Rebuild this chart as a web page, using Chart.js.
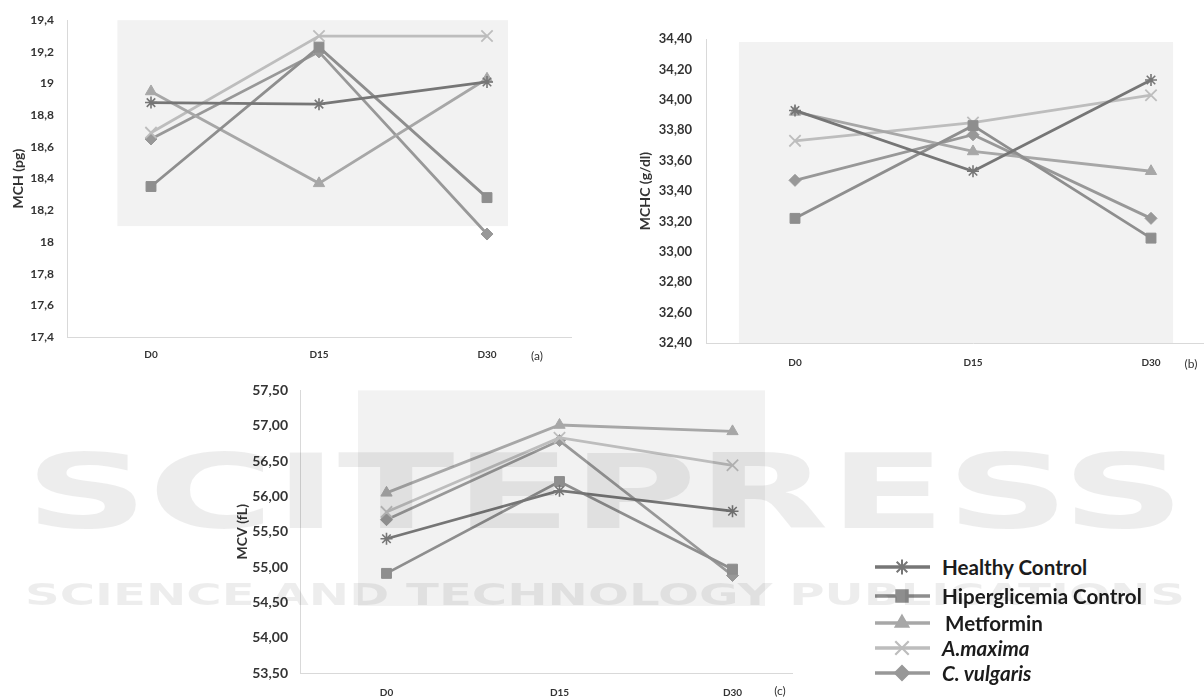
<!DOCTYPE html>
<html>
<head>
<meta charset="utf-8">
<script src="https://cdn.jsdelivr.net/npm/chart.js@4.4.1/dist/chart.umd.min.js"></script>
<style>
  html, body { margin: 0; padding: 0; background: #fff; }
  body { width: 1204px; height: 700px; overflow: hidden; position: relative; font-family: Lato, "Open Sans", sans-serif; }
  .box { position: absolute; overflow: hidden; }
  .box canvas { position: absolute; left: 0; top: 0; }
  .tag { position: absolute; font: 12px Lato, sans-serif; color: #333; transform: translate(-50%, -50%); white-space: nowrap; }
  #legend { position: absolute; left: 0; top: 0; }
  .row { position: absolute; height: 26px; display: flex; align-items: center; white-space: nowrap; }
  .row canvas { display: block; }
  .row span { font: bold 20.6px Lato, sans-serif; color: #1c1c1c; margin-left: 10px; }
  .row span.it { font-style: italic; }
  #mark { position: absolute; left: 0; top: 0; pointer-events: none; z-index: 5; }
</style>
</head>
<body>
<div class="box" style="left:0;top:0;width:600px;height:370px"><canvas id="chartMCH" width="600" height="370"></canvas></div>
<div class="box" style="left:600px;top:0;width:604px;height:380px"><canvas id="chartMCHC" width="660" height="380"></canvas></div>
<div class="box" style="left:200px;top:370px;width:593px;height:330px"><canvas id="chartMCV" width="640" height="330"></canvas></div>
<div class="tag" style="left:537px;top:355px">(a)</div>
<div class="tag" style="left:1191px;top:363px">(b)</div>
<div class="tag" style="left:780px;top:690px">(c)</div>
<div id="legend"></div>
<canvas id="mark" width="1204" height="700"></canvas>

<script>
// Sampling days and treatment groups
const days = ['D0', 'D15', 'D30'];
const groups = ['Healthy Control', 'Hiperglicemia Control', 'Metformin', 'A.maxima', 'C. vulgaris'];

// MCH (pg)
const mchHealthy   = [18.88, 18.87, 19.01];
const mchHiper     = [18.35, 19.23, 18.28];
const mchMetformin = [18.95, 18.37, 19.03];
const mchAmaxima   = [18.69, 19.30, 19.30];
const mchCvulgaris = [18.65, 19.20, 18.05];

// MCHC (g/dl)
const mchcHealthy   = [33.93, 33.53, 34.13];
const mchcHiper     = [33.22, 33.83, 33.09];
const mchcMetformin = [33.92, 33.66, 33.53];
const mchcAmaxima   = [33.73, 33.85, 34.03];
const mchcCvulgaris = [33.47, 33.77, 33.22];

// MCV (fL)
const mcvHealthy   = [55.40, 56.08, 55.79];
const mcvHiper     = [54.91, 56.21, 54.97];
const mcvMetformin = [56.05, 57.01, 56.92];
const mcvAmaxima   = [55.78, 56.83, 56.44];
const mcvCvulgaris = [55.67, 56.79, 54.88];

// Axis tick values
const mchTicks  = [17.4, 17.6, 17.8, 18.0, 18.2, 18.4, 18.6, 18.8, 19.0, 19.2, 19.4];
const mchcTicks = [32.4, 32.6, 32.8, 33.0, 33.2, 33.4, 33.6, 33.8, 34.0, 34.2, 34.4];
const mcvTicks  = [53.5, 54.0, 54.5, 55.0, 55.5, 56.0, 56.5, 57.0, 57.5];

// Series styling (grayscale palette)
const seriesColors  = ['#767676', '#8e8e8e', '#a7a7a7', '#bdbdbd', '#989898'];
const seriesMarkers = ['star', 'rect', 'triangle', 'crossRot', 'rectRot'];
const markerRadius  = [6, 7, 6.5, 8, 6];
const markerBorder  = [1.6, 1, 1, 1.8, 1];

Chart.defaults.font.family = 'Lato, "Open Sans", sans-serif';

// Light panel painted behind the lines, bounds given in axis units
const plotShade = {
  id: 'plotShade',
  beforeDatasetsDraw(chart, args, opts) {
    if (!opts || opts.x0 === undefined) return;
    const { ctx, scales: { x, y } } = chart;
    const l = x.getPixelForValue(opts.x0), r = x.getPixelForValue(opts.x1);
    const t = y.getPixelForValue(opts.y1), b = y.getPixelForValue(opts.y0);
    ctx.save();
    ctx.fillStyle = opts.color || '#f2f2f2';
    ctx.fillRect(l, t, r - l, b - t);
    ctx.restore();
  }
};

function makeChart(id, cfg) {
  return new Chart(document.getElementById(id), {
    type: 'line',
    data: {
      labels: days,
      datasets: groups.map((name, i) => ({
        label: name,
        data: cfg.values[i],
        borderColor: seriesColors[i],
        backgroundColor: seriesColors[i],
        pointBackgroundColor: seriesColors[i],
        pointBorderColor: seriesColors[i],
        pointStyle: seriesMarkers[i],
        pointRadius: markerRadius[i],
        pointBorderWidth: markerBorder[i],
        borderWidth: cfg.lineWidth,
        tension: 0,
        fill: false,
        clip: false
      }))
    },
    options: {
      responsive: false,
      animation: false,
      events: [],
      layout: { padding: cfg.padding },
      plugins: {
        legend: { display: false },
        tooltip: { enabled: false },
        plotShade: cfg.shade
      },
      scales: {
        x: {
          type: 'category',
          offset: true,
          grid: { display: false, drawTicks: false },
          border: { display: true, color: '#d9d9d9', width: 1 },
          ticks: { padding: cfg.xPad, color: '#333', maxRotation: 0, autoSkip: false,
                   font: { weight: 'bold', size: 10 } },
          afterFit: s => { s.height = cfg.xHeight; }
        },
        y: {
          min: cfg.ticks[0],
          max: cfg.ticks[cfg.ticks.length - 1],
          grid: { display: false, drawTicks: false },
          border: { display: true, color: '#d9d9d9', width: 1 },
          ticks: { padding: cfg.yPad, color: '#333', font: { weight: 'bold', size: cfg.tickSize },
                   callback: cfg.format },
          afterBuildTicks: s => { s.ticks = cfg.ticks.map(v => ({ value: v })); },
          afterFit: s => { s.width = cfg.yWidth; },
          title: { display: true, text: cfg.title, color: '#333',
                   font: { weight: 'bold', size: 14 }, padding: { top: cfg.titlePad, bottom: 0 } }
        }
      }
    },
    plugins: [plotShade]
  });
}

const oneDecimal = v => String(Math.round(v * 10) / 10).replace('.', ',');
const twoDecimals = v => v.toFixed(2).replace('.', ',');

makeChart('chartMCH', {
  values: [mchHealthy, mchHiper, mchMetformin, mchAmaxima, mchCvulgaris],
  ticks: mchTicks, format: oneDecimal, title: 'MCH (pg)',
  padding: { left: 0, right: 29, top: 15, bottom: 0 },
  yWidth: 67, xHeight: 33, xPad: 12, yPad: 13, tickSize: 12, titlePad: 10,
  lineWidth: 2.8,
  shade: { x0: -0.2, x1: 2.125, y0: 18.1, y1: 19.4, color: '#f2f2f2' }
});

makeChart('chartMCHC', {
  values: [mchcHealthy, mchcHiper, mchcMetformin, mchcAmaxima, mchcCvulgaris],
  ticks: mchcTicks, format: twoDecimals, title: 'MCHC (g/dl)',
  padding: { left: 0, right: 20, top: 39, bottom: 0 },
  yWidth: 106, xHeight: 37, xPad: 14, yPad: 14, tickSize: 13, titlePad: 37,
  lineWidth: 2.8,
  shade: { x0: -0.315, x1: 2.124, y0: 32.4, y1: 34.38, color: '#f2f2f2' }
});

makeChart('chartMCV', {
  values: [mcvHealthy, mcvHiper, mcvMetformin, mcvAmaxima, mcvCvulgaris],
  ticks: mcvTicks, format: twoDecimals, title: 'MCV (fL)',
  padding: { left: 0, right: 21, top: 17, bottom: 0 },
  yWidth: 100, xHeight: 27, xPad: 14, yPad: 12, tickSize: 14, titlePad: 34,
  lineWidth: 2.8,
  shade: { x0: -0.165, x1: 2.188, y0: 54.45, y1: 57.5, color: '#f2f2f2' }
});

// Shared legend
const legendRows = [567, 596, 623, 648, 673];
const legendEl = document.getElementById('legend');
groups.forEach((name, i) => {
  const row = document.createElement('div');
  row.className = 'row';
  row.style.left = '872px';
  row.style.top = (legendRows[i] - 13) + 'px';
  const c = document.createElement('canvas');
  c.width = 60; c.height = 26;
  row.appendChild(c);
  const t = document.createElement('span');
  t.textContent = name;
  if (i >= 3) t.className = 'it';
  if (i === 2) t.style.marginLeft = '13px';
  row.appendChild(t);
  legendEl.appendChild(row);

  const ctx = c.getContext('2d');
  ctx.strokeStyle = seriesColors[i];
  ctx.fillStyle = seriesColors[i];
  ctx.lineWidth = 3.5;
  ctx.beginPath();
  ctx.moveTo(3, 13); ctx.lineTo(58, 13);
  ctx.stroke();
  ctx.lineWidth = markerBorder[i] + 0.4;
  Chart.helpers.drawPoint(ctx, { pointStyle: seriesMarkers[i], radius: markerRadius[i] + 1.5,
                                 borderWidth: markerBorder[i] + 0.4, rotation: 0 }, 30, 13);
});

// Publisher watermark across the page
(function () {
  const ctx = document.getElementById('mark').getContext('2d');
  ctx.fillStyle = 'rgba(0,0,0,0.07)';
  function spread(text, font, x0, x1, baseline) {
    ctx.save();
    ctx.font = font;
    const w = ctx.measureText(text).width;
    ctx.translate(x0, baseline);
    ctx.scale((x1 - x0) / w, 1);
    ctx.fillText(text, 0, 0);
    ctx.restore();
  }
  spread('SCITEPRESS', 'bold 104px "DejaVu Sans"', 25, 1185, 528);
  spread('SCIENCE AND TECHNOLOGY PUBLICATIONS', 'bold 31px "DejaVu Sans"', 25, 1185, 605);
})();
</script>
</body>
</html>
